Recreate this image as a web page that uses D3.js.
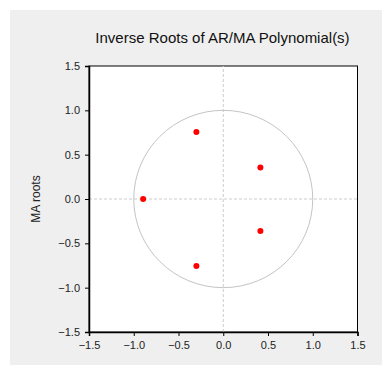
<!DOCTYPE html>
<html>
<head>
<meta charset="utf-8">
<script src="https://cdn.jsdelivr.net/npm/d3@7"></script>
<style>
  body { margin: 0; background: #fff; }
  svg { display: block; font-family: "Liberation Sans", Arial, sans-serif; }
</style>
</head>
<body>
<svg width="382" height="365"></svg>
<script>
// inverse roots (real, imaginary)
const rootRe = [-0.30, 0.415, -0.895, 0.415, -0.30];
const rootIm = [0.755, 0.355, 0.0, -0.36, -0.755];
const ticks = [-1.5, -1.0, -0.5, 0.0, 0.5, 1.0, 1.5];

const svg = d3.select('svg');

svg.append('rect')
    .attr('x', 10).attr('y', 10)
    .attr('width', 372).attr('height', 355)
    .attr('fill', '#efefef');

const margin = { left: 89, top: 66, right: 357.5, bottom: 332 };

const x = d3.scaleLinear().domain([-1.5, 1.5]).range([margin.left, margin.right]);
const y = d3.scaleLinear().domain([-1.5, 1.5]).range([margin.bottom, margin.top]);

svg.append('rect')
    .attr('x', margin.left).attr('y', margin.top)
    .attr('width', margin.right - margin.left)
    .attr('height', margin.bottom - margin.top)
    .attr('fill', '#fff')
    .attr('stroke', '#000')
    .attr('stroke-width', 1);

// zero lines
svg.append('line')
    .attr('x1', x(-1.5)).attr('x2', x(1.5))
    .attr('y1', y(0)).attr('y2', y(0))
    .attr('stroke', '#cccccc').attr('stroke-dasharray', '3,2');
svg.append('line')
    .attr('x1', x(0)).attr('x2', x(0))
    .attr('y1', y(-1.5)).attr('y2', y(1.5))
    .attr('stroke', '#cccccc').attr('stroke-dasharray', '3,2');

// unit circle
svg.append('ellipse')
    .attr('cx', x(0)).attr('cy', y(0))
    .attr('rx', x(1) - x(0)).attr('ry', y(0) - y(1))
    .attr('fill', 'none')
    .attr('stroke', '#c4c4c4')
    .attr('stroke-width', 1);

const fmt = d3.format('.1f');

const xAxis = svg.append('g')
    .attr('transform', `translate(0,${margin.bottom})`)
    .call(d3.axisBottom(x).tickValues(ticks).tickFormat(fmt).tickSizeOuter(0).tickSize(4).tickPadding(5));
const yAxis = svg.append('g')
    .attr('transform', `translate(${margin.left},0)`)
    .call(d3.axisLeft(y).tickValues(ticks).tickFormat(fmt).tickSizeOuter(0).tickSize(4).tickPadding(5));

[xAxis, yAxis].forEach(a => {
    a.selectAll('text').attr('font-size', 11).attr('fill', '#222')
        .attr('font-family', '"Liberation Sans", Arial, sans-serif');
    a.selectAll('line').attr('stroke', '#000');
    a.select('.domain').attr('stroke', '#000').attr('stroke-width', 1.5);
});

svg.selectAll('.root')
    .data(rootRe.map((r, i) => ({ re: r, im: rootIm[i] })))
    .enter()
    .append('circle')
    .classed('root', true)
    .attr('cx', d => x(d.re))
    .attr('cy', d => y(d.im))
    .attr('r', 3)
    .attr('fill', '#ff0000');

svg.append('text')
    .attr('x', 222.5).attr('y', 43)
    .attr('text-anchor', 'middle')
    .attr('font-size', 15)
    .attr('fill', '#111')
    .text('Inverse Roots of AR/MA Polynomial(s)');

svg.append('text')
    .attr('transform', `translate(40,${(margin.top + margin.bottom) / 2}) rotate(-90)`)
    .attr('text-anchor', 'middle')
    .attr('font-size', 12)
    .attr('fill', '#222')
    .text('MA roots');
</script>
</body>
</html>
